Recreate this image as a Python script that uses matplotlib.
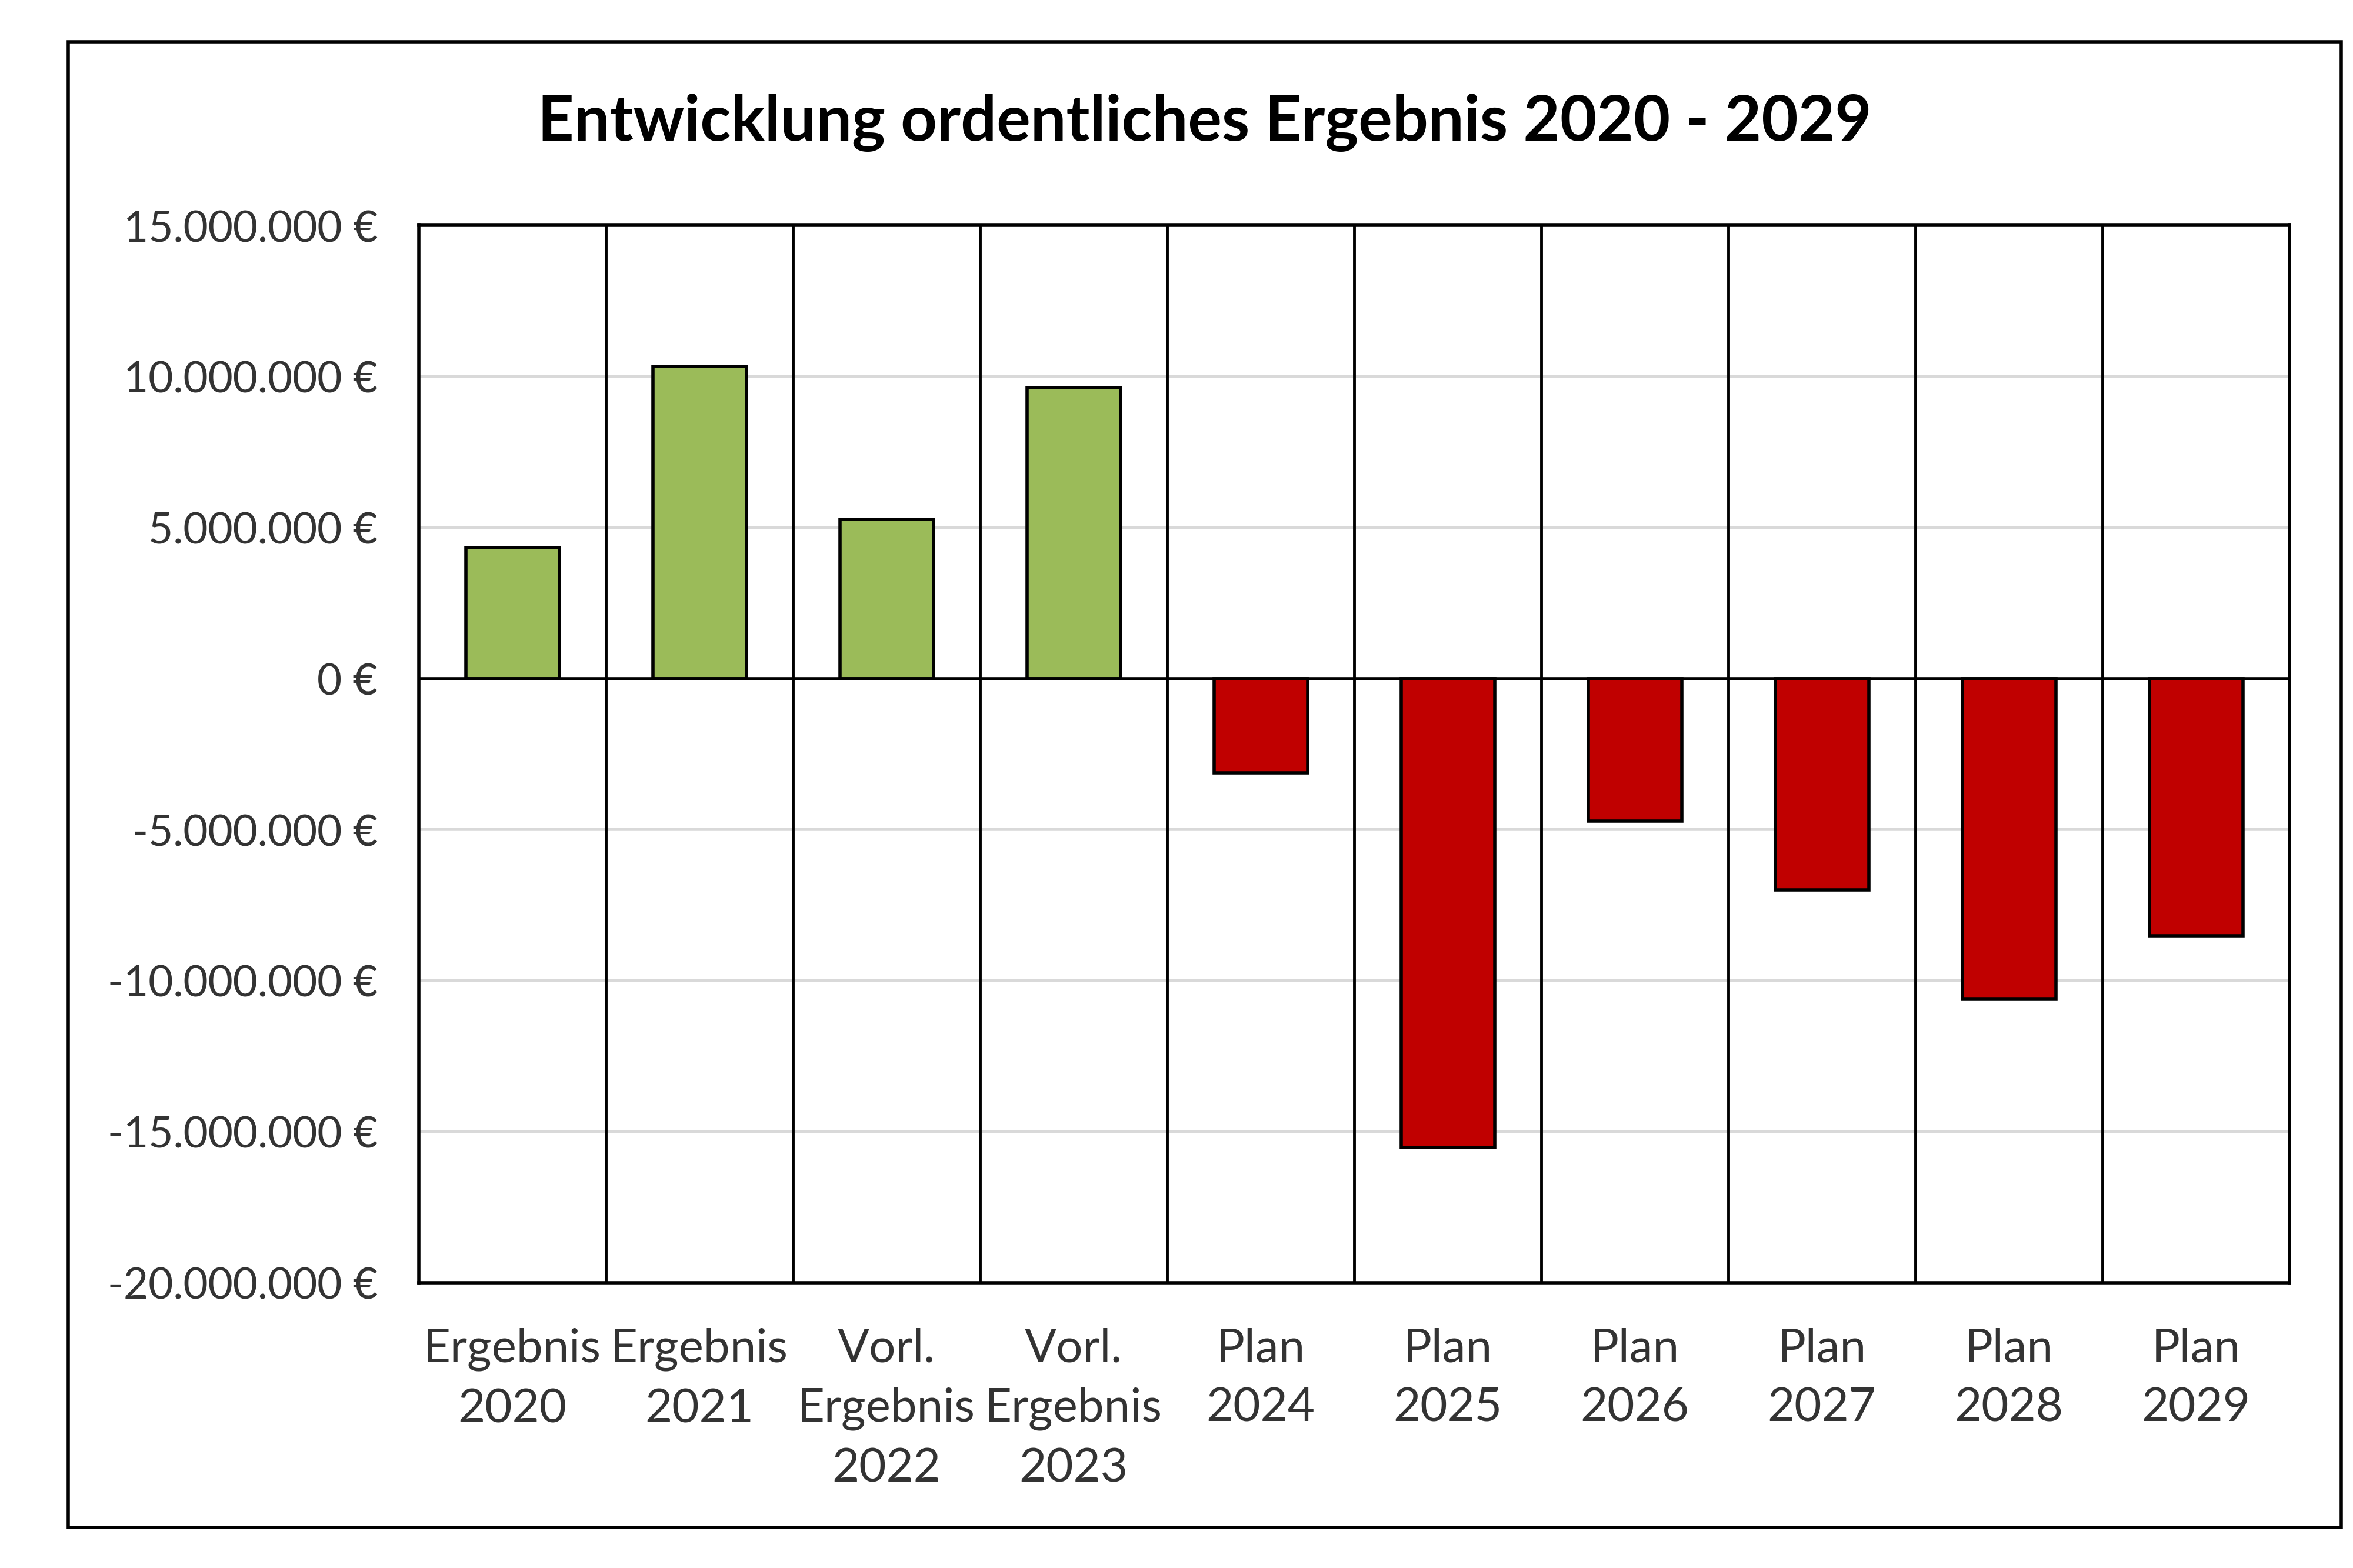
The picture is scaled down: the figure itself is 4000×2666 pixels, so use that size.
import numpy as np
import matplotlib.pyplot as plt
from matplotlib.patches import Rectangle
from matplotlib.ticker import FuncFormatter

# values (EUR)
categories = ["Ergebnis\n2020", "Ergebnis\n2021", "Vorl.\nErgebnis\n2022", "Vorl.\nErgebnis\n2023",
              "Plan\n2024", "Plan\n2025", "Plan\n2026", "Plan\n2027", "Plan\n2028", "Plan\n2029"]
values = [4340000, 10330000, 5270000, 9640000,
          -3120000, -15520000, -4720000, -7000000, -10620000, -8520000]
y_ticks = [-20000000, -15000000, -10000000, -5000000, 0, 5000000, 10000000, 15000000]
title = "Entwicklung ordentliches Ergebnis 2020 - 2029"

plt.rcParams["font.family"] = ["Lato", "DejaVu Sans"]

fig = plt.figure(figsize=(16, 10.667), dpi=250)
ax = fig.add_axes([0.178, 0.182, 0.795, 0.674])

# outer frame around the whole chart
fig.patches.append(Rectangle((0.029, 0.026), 0.966, 0.947, transform=fig.transFigure,
                             fill=False, edgecolor="black", linewidth=1.6))

x = np.arange(len(categories))
colors = ["#9BBB59" if v >= 0 else "#C00000" for v in values]
ax.bar(x, values, width=0.5, color=colors, edgecolor="black", linewidth=1.6, zorder=3)

ax.set_xlim(-0.5, len(categories) - 0.5)
ax.set_ylim(-20000000, 15000000)
ax.set_yticks(y_ticks)

def euro(v, pos):
    s = f"{int(v):,}".replace(",", ".")
    return f"{s} €"

ax.yaxis.set_major_formatter(FuncFormatter(euro))
ax.yaxis.grid(True, color="#d9d9d9", linewidth=1.6, zorder=0)

# vertical separators between categories
for b in np.arange(0.5, len(categories) - 0.5, 1):
    ax.axvline(b, color="black", linewidth=1.4, zorder=2)
ax.axhline(0, color="black", linewidth=1.6, zorder=4)

ax.set_xticks(x)
ax.set_xticklabels(categories, fontsize=23, color="#333333", linespacing=1.5)
ax.tick_params(axis="y", labelsize=21, colors="#333333", length=0, pad=20)
ax.tick_params(axis="x", length=0, pad=22)
for s in ax.spines.values():
    s.set_linewidth(1.6)
    s.set_color("black")

fig.text(0.512, 0.922, title, ha="center", va="center", fontsize=31, fontweight="bold", color="black")

fig.savefig("out.png", dpi=250, facecolor="white")
